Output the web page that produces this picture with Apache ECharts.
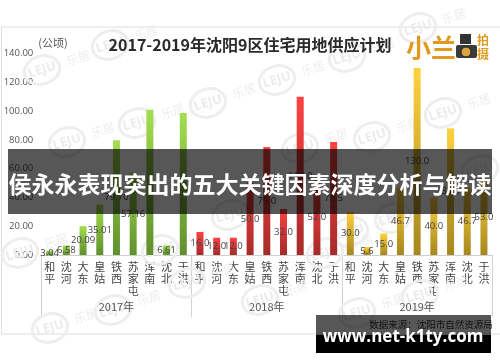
<!DOCTYPE html>
<html><head><meta charset="utf-8">
<style>html,body{margin:0;padding:0;background:#fff}#c{width:500px;height:362px}</style>
<script src="https://cdn.jsdelivr.net/npm/echarts@6/dist/echarts.min.js"></script>
</head><body><div id="c"></div>
<script>
const districts = ['和\n平','沈\n河','大\n东','皇\n姑','铁\n西','苏\n家\n屯','浑\n南','沈\n北','于\n洪'];
const years = ['2017年','2018年','2019年'];
const values2017 = [3.04,6.58,20.09,35.01,79.70,57.16,101.0,6.61,98.6];
const values2018 = [16.0,12.0,12.0,50.0,75.0,32.0,110.0,52.0,78.5];
const values2019 = [30.0,5.6,15.0,46.7,130.0,40.0,88.0,46.7,53.0];
const labels2017 = ['3.04','6.58','20.09','35.01','79.70','57.16','','6.61',''];
const labels2018 = ['16.0','12.0','12.0','50.0','75.0','32.0','110.0','52.0','78.5'];
const labels2019 = ['30.0','5.6','15.0','46.7','130.0','40.0','88.0','46.7','53.0'];
const yearColors = [['#a4de50','#5f8f2c'],['#ff4242','#a52a2a'],['#ffd23e','#a5871f']];
const watermarkRings = [[42,70],[110,45],[208,103],[137,123],[67,142],[277,80],[347,57],[418,28],[443,113],[372,137],
  [50,328],[113,310],[187,283],[420,295],[357,313],[20,253],[300,148],[325,253],[350,232],[393,218],[230,215],[160,250],[480,170],[260,300]];

const font = '"Open Sans","DejaVu Sans",sans-serif';
const cjk = '"Noto Sans CJK SC",sans-serif';
const groups = [[values2017,labels2017],[values2018,labels2018],[values2019,labels2019]];
const barData = [];
groups.forEach(([vals,labs],g)=>vals.forEach((v,i)=>barData.push({
  value:v,
  label:{formatter:labs[i]},
  itemStyle:{color:new echarts.graphic.LinearGradient(0,0,0,1,[{offset:0,color:yearColors[g][0]},{offset:1,color:yearColors[g][1]}])}
})));

const marks = [];
watermarkRings.forEach(([x,y])=>{
  marks.push({type:'ellipse',silent:true,z:1,shape:{cx:x,cy:y,rx:18,ry:14},rotation:0.3,originX:x,originY:y,
    style:{fill:'none',stroke:'#eeeeee',lineWidth:3}});
  marks.push({type:'text',silent:true,z:1,x:x,y:y,rotation:0.3,
    style:{text:'LEJU',fill:'#ececec',font:'bold 13px '+font,align:'center',verticalAlign:'middle'}});
  marks.push({type:'text',silent:true,z:1,x:x+36,y:y-12,rotation:0.3,
    style:{text:'乐居',fill:'#eeeeee',font:'12px '+cjk,align:'center',verticalAlign:'middle'}});
});

const overlay = [
  {type:'rect',silent:true,z:0,shape:{x:1.5,y:27,width:500,height:307},style:{fill:'#fff',stroke:'#dedede',lineWidth:1}},
  {type:'text',z:30,x:250,y:45,style:{text:'2017-2019年沈阳9区住宅用地供应计划',fill:'#2a2a2a',font:'bold 16px '+cjk,align:'center',verticalAlign:'middle'}},
  {type:'text',z:30,x:431,y:47,style:{text:'小兰',fill:'#df9a1f',font:'bold 25px '+cjk,align:'center',verticalAlign:'middle'}},
  {type:'rect',z:30,shape:{x:456,y:45,width:21,height:13,r:2},style:{fill:'#3a3a3a'}},
  {type:'rect',z:30,shape:{x:460,y:34,width:11,height:10},style:{fill:'#333'}},
  {type:'circle',z:31,shape:{cx:466,cy:52,r:5},style:{fill:'#d9a441',stroke:'#222',lineWidth:1}},
  {type:'text',z:30,x:483,y:47,style:{text:'拍\n摄',fill:'#df9a1f',font:'bold 12px '+cjk,align:'center',verticalAlign:'middle',lineHeight:14}},
  {type:'rect',silent:true,z:50,shape:{x:8,y:149,width:484,height:65},style:{fill:'rgba(0,0,0,0.66)'}},
  {type:'text',z:51,x:250,y:184,style:{text:'侯永永表现突出的五大关键因素深度分析与解读',fill:'#fff',font:'bold 23px '+cjk,align:'center',verticalAlign:'middle'}},
  {type:'text',z:30,x:431,y:324,style:{text:'数据来源：沈阳市自然资源局',fill:'#333',font:'9.5px '+cjk,align:'center',verticalAlign:'middle'}},
  {type:'rect',silent:true,z:50,shape:{x:316,y:315,width:175,height:20},style:{fill:'rgba(0,0,0,0.66)'}},
  {type:'rect',silent:true,z:50,shape:{x:316,y:335,width:175,height:18},style:{fill:'#000'}},
  {type:'text',z:51,x:403,y:337,style:{text:'www.net-k1ty.com',fill:'#fff',font:'bold 17px "Open Sans",sans-serif',align:'center',verticalAlign:'middle'}}
];

const chart = echarts.init(document.getElementById('c'),null,{renderer:'canvas'});
chart.setOption({
  animation:false,
  backgroundColor:'#fff',
  grid:{left:41.3,right:7.7,top:53.5,bottom:107,containLabel:false},
  xAxis:[
    {type:'category',data:[...districts,...districts,...districts],
     axisLine:{lineStyle:{color:'#cfcfcf'}},axisTick:{show:false},
     axisLabel:{interval:0,margin:6,fontSize:11,lineHeight:12,color:'#444',fontFamily:cjk}},
    {type:'category',position:'bottom',data:years,
     axisLine:{show:false},axisTick:{show:true,length:62,interval:0,lineStyle:{color:'#d2d2d2'}},
     axisLabel:{show:false}}
  ],
  yAxis:{type:'value',min:0,max:140,interval:20,
    name:'(公顷)',nameLocation:'end',nameGap:0,
    nameTextStyle:{align:'left',verticalAlign:'middle',color:'#555',fontSize:11,fontFamily:cjk,padding:[0,0,0,-3]},
    axisLine:{show:false},axisTick:{show:false},splitLine:{show:false},
    axisLabel:{margin:8,fontSize:9.5,color:'#555',fontFamily:font,formatter:v=>v.toFixed(2)}},
  series:[{type:'bar',data:barData,barWidth:7,z:5,
    label:{show:true,position:'inside',fontSize:9.5,color:'#444',fontFamily:font}}],
  graphic:[...overlay.slice(0,1),...marks,...overlay.slice(1)]
});
const yearTexts = years.map((y,i)=>({type:'text',z:30,
  x:chart.convertToPixel({xAxisIndex:1},i),y:307,
  style:{text:y,fill:'#555',font:'11px '+cjk,align:'center',verticalAlign:'middle'}}));
chart.setOption({graphic:[...overlay.slice(0,1),...marks,...overlay.slice(1),...yearTexts]},{replaceMerge:['graphic']});
</script></body></html>
